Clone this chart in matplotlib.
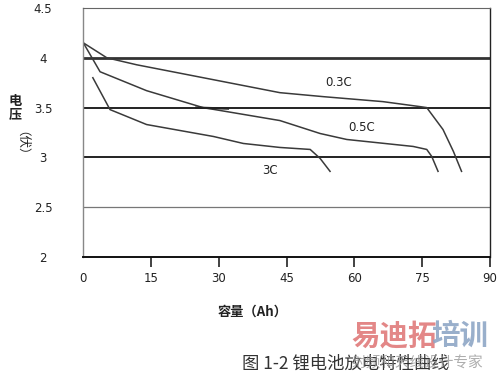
import matplotlib
matplotlib.use('Agg')
import matplotlib.pyplot as plt

plt.rcParams['font.family'] = ['Noto Sans CJK SC', 'DejaVu Sans']

# discharge curves: capacity (Ah) vs voltage (V)
cap_03c = [0, 5.2, 11.8, 28.8, 43.5, 53.1, 66.3, 74.5, 76, 79.6, 81.9, 83.7]
volt_03c = [4.15, 4.0, 3.93, 3.78, 3.65, 3.61, 3.56, 3.51, 3.50, 3.28, 3.06, 2.86]

cap_05c = [0, 3.7, 14.0, 26.5, 43.5, 52.4, 58.3, 73, 76, 77.1, 78.5]
volt_05c = [4.15, 3.86, 3.67, 3.50, 3.37, 3.24, 3.18, 3.11, 3.08, 3.01, 2.86]

# short stray stroke drawn over the 0.5C curve near 3.5 V
cap_stroke = [25, 32]
volt_stroke = [3.50, 3.49]

cap_3c = [2.1, 5.9, 14, 28.8, 35.4, 43.5, 50.2, 52.4, 54.6]
volt_3c = [3.80, 3.48, 3.33, 3.21, 3.14, 3.10, 3.08, 2.99, 2.86]

curve_labels = ['0.3C', '0.5C', '3C']
label_pos = [(56.4, 3.75), (61.6, 3.30), (41.3, 2.87)]

x_ticks = [0, 15, 30, 45, 60, 75, 90]
y_ticks = [2, 2.5, 3, 3.5, 4, 4.5]
y_ticklabels = ['2', '2.5', '3', '3.5', '4', '4.5']

fig = plt.figure(figsize=(5, 3.74), dpi=100)
ax = fig.add_axes([0.1667, 0.3128, 0.8133, 0.6658])

# horizontal reference lines
ax.axhline(4.0, color='#333333', linewidth=2.0)
ax.axhline(3.5, color='#111111', linewidth=1.3)
ax.axhline(3.0, color='#111111', linewidth=1.3)
ax.axhline(2.5, color='#777777', linewidth=0.9)

for cap, volt in [(cap_03c, volt_03c), (cap_05c, volt_05c), (cap_3c, volt_3c)]:
    ax.plot(cap, volt, color='#3a3a3a', linewidth=1.1)
ax.plot(cap_stroke, volt_stroke, color='#222222', linewidth=1.6)

for text, (x, y) in zip(curve_labels, label_pos):
    ax.text(x, y, text, fontsize=8.5, family='DejaVu Sans', color='#222222',
            ha='center', va='center')

ax.set_xlim(0, 90)
ax.set_ylim(2, 4.5)
ax.set_xticks(x_ticks)
ax.set_yticks(y_ticks)
ax.set_yticklabels(y_ticklabels)
ax.tick_params(axis='x', direction='out', length=7, width=1.2, pad=4,
               labelsize=8.5, colors='#222222')
ax.tick_params(axis='y', length=0, pad=29, labelsize=8.5, colors='#222222')
ax.xaxis.get_major_ticks()[0].tick1line.set_visible(False)
for lab in ax.get_yticklabels():
    lab.set_ha('center')
for lab in ax.get_xticklabels() + ax.get_yticklabels():
    lab.set_family('DejaVu Sans')

ax.spines['left'].set_color('#888888')
ax.spines['left'].set_linewidth(1.0)
ax.spines['top'].set_color('#666666')
ax.spines['top'].set_linewidth(0.8)
ax.spines['right'].set_color('#222222')
ax.spines['right'].set_linewidth(1.0)
ax.spines['bottom'].set_color('#111111')
ax.spines['bottom'].set_linewidth(1.4)

# axis titles
fig.text(0.506, 1 - 311.5 / 374, '容量（Ah）', fontsize=9.5, fontweight='bold',
         ha='center', va='center', color='#222222')
fig.text(0.030, 1 - 108 / 374, '电\n压', fontsize=9.5, fontweight='bold',
         ha='center', va='center', linespacing=1.0, color='#222222')
fig.text(0.030, 1 - 150 / 374, '（伏）', fontsize=9, rotation=270,
         ha='center', va='center', color='#222222')

# caption
fig.text(0.69, 1 - 364 / 374, '图 1-2 锂电池放电特性曲线', fontsize=12.5,
         ha='center', va='center', color='#333333')

# watermark
fig.text(0.702, 1 - 336 / 374, '易迪拓', fontsize=20.5, fontweight='bold',
         ha='left', va='center', color='#e07a7a', alpha=0.9)
fig.text(0.862, 1 - 336 / 374, '培训', fontsize=20.5, fontweight='bold',
         ha='left', va='center', color='#8ea6c6', alpha=0.9)
fig.text(0.704, 1 - 364 / 374, '射频和天线设计专家', fontsize=10.5,
         ha='left', va='center', color='#999999', alpha=0.8)

fig.savefig('out.png', dpi=100)
